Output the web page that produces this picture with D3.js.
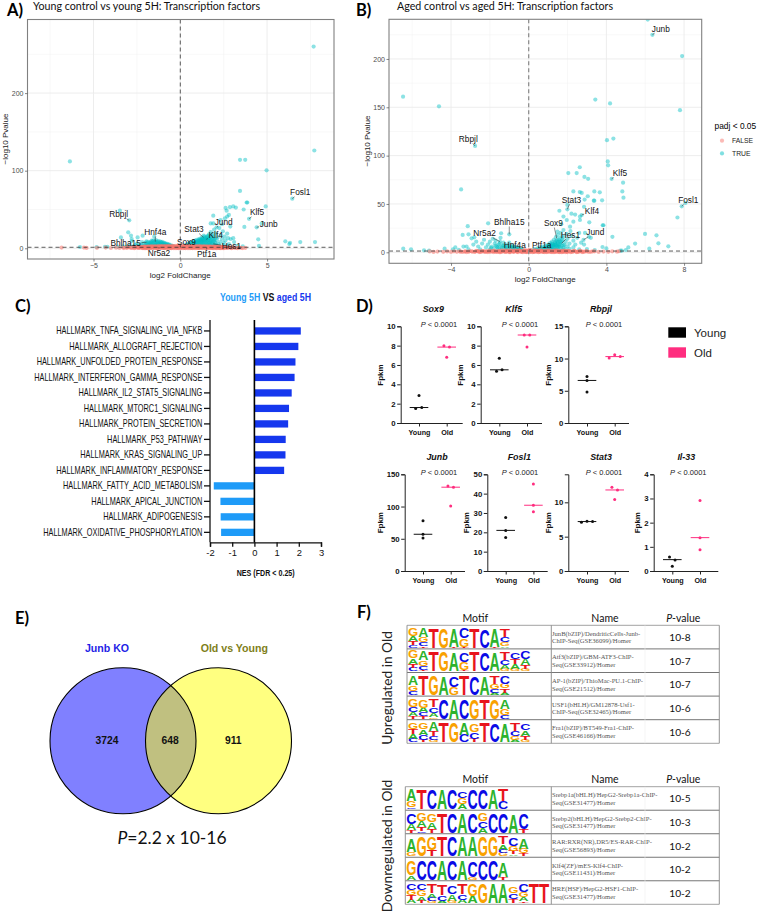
<!DOCTYPE html>
<html>
<head>
<meta charset="utf-8">
<script src="https://cdn.jsdelivr.net/npm/d3@7"></script>
<style>
  html, body { margin: 0; padding: 0; background: #fff; }
  svg { display: block; }
  text { font-family: "Liberation Sans", Arial, sans-serif; }
  .calibri { font-family: Lato, sans-serif; }
</style>
</head>
<body>
<svg id="fig" width="758" height="914"></svg>
<script>
// ---- Panel A values: [log2 fold change, -log10 p] ----
var aSignificant = [
  [7.68,260],[7.72,126],[-6.36,112],[3.44,114],[3.74,114],[4.97,100.5],[3.44,74],[6.45,64],[3.82,59],[3.86,59],
  [-3.48,48.5],[-2.94,36],[4.92,54],[3.65,50],[3.96,38],[3.05,54],[2.61,52],[2.86,53],[3.2,52.5],[2.67,48.5],
  [2.8,43],[1.9,42],[2.7,41],[2.57,38.6],[1.75,32],[1.9,32],[2.32,36.5],[2.4,31],[2.09,27],[2.88,28],
  [3.69,27.5],[4.4,27],[4.69,32],[4.49,11.6],[4.53,3],[6.05,9],[6.28,5.5],[6.32,7],[6.91,8],[7.76,8],
  [-3,20.6],[-2.84,16.3],[-3.42,14],[-2.8,12],[-2.46,14],[-2.17,16.3],[-5.78,1.7],[-4.34,2],[-4.2,2],[-4.82,1.7],
  [0.35,2.2],[0.4,3],[0.45,2],[0.5,3.5],[0.5,2.4],[0.55,4.5],[0.6,2.2],[0.6,3.3],[0.65,5.5],[0.7,2.5],
  [0.7,4],[0.75,6.4],[0.8,2.3],[0.8,3.4],[0.8,5],[0.85,7.5],[0.9,2.6],[0.9,4.2],[0.9,6],[0.95,8.3],
  [1,2.4],[1,3.5],[1,5.2],[1,7],[1.05,9.5],[1.1,2.8],[1.1,4.4],[1.1,6.2],[1.1,8],[1.15,10.6],
  [1.2,2.5],[1.2,3.8],[1.2,5.4],[1.2,7.3],[1.25,9.3],[1.25,12],[1.3,2.9],[1.3,4.6],[1.3,6.5],[1.3,8.4],
  [1.35,10.5],[1.35,16.5],[1.4,3.4],[1.4,5.5],[1.4,7.6],[1.4,13],[1.5,2.6],[1.5,4.3],[1.5,6.3],[1.5,9],
  [1.5,11],[1.55,15],[1.6,3.2],[1.6,5.4],[1.6,8],[1.65,18],[1.7,2.7],[1.7,4.6],[1.7,7],[1.7,10.5],
  [1.7,13.5],[1.75,21],[1.8,3.6],[1.8,6],[1.85,16],[1.9,2.8],[1.9,5],[1.9,9],[1.9,12],[1.95,24],
  [2,4],[2,7.5],[2.05,19],[2.1,3],[2.1,10.5],[2.15,14],[2.2,5.5],[2.25,26],[2.3,2.6],[2.3,8],
  [2.35,17],[2.4,12],[2.45,22],[2.5,4.2],[2.5,7],[2.55,15],[2.6,10],[2.7,3],[2.7,19],[2.75,13],
  [2.8,5.5],[2.9,12],[3.05,13],[3.1,8],[3.6,2.4],[3.3,3],
  [.3,4],[.4,5],[.5,6.2],[.55,7.2],[.65,8],[.7,7],[.75,9.2],[.85,9.8],[.9,8],[.95,10.8],
  [1,9],[1.05,11.5],[1.1,10],[1.15,12.6],[1.2,9],[1.2,11],[1.25,14],[1.3,10.5],[1.3,12.5],[1.4,9],
  [1.4,11],[1.4,15],[1.45,12.5],[1.5,14],[1.55,9.8],[1.55,12.5],[1.6,10.8],[1.6,16],[1.65,6.4],[1.65,13],
  [1.75,8.6],[1.75,12],[1.8,10],[1.8,14.5],[1.85,18.5],[1.85,7.5],[1.95,10.6],[1.95,14.5],[2,12],[2.05,6.4],
  [-0.35,2],[-0.4,2.8],[-0.5,2.2],[-0.5,3.4],[-0.6,2.5],[-0.6,4],[-0.7,2.2],[-0.7,3.2],[-0.7,4.6],[-0.8,2.6],
  [-0.8,3.8],[-0.8,5.2],[-0.9,2.3],[-0.9,3.4],[-0.9,4.8],[-0.9,6],[-1,2.7],[-1,4],[-1,5.4],[-1,6.8],
  [-1.1,2.2],[-1.1,3.3],[-1.1,4.6],[-1.1,6],[-1.1,7.6],[-1.2,2.8],[-1.2,4.2],[-1.2,5.6],[-1.2,7],[-1.3,2.3],
  [-1.3,3.5],[-1.3,5],[-1.3,6.4],[-1.3,8.5],[-1.4,3],[-1.4,4.4],[-1.4,6],[-1.4,10.5],[-1.5,2.5],[-1.5,3.8],
  [-1.5,5.4],[-1.5,7.6],[-1.5,15],[-1.6,3.2],[-1.6,4.8],[-1.6,6.8],[-1.6,9],[-1.7,2.6],[-1.7,4.2],[-1.7,5.8],
  [-1.7,8],[-1.8,3.4],[-1.8,5],[-1.8,7],[-1.9,2.4],[-1.9,4],[-1.9,6],[-2,3],[-2,4.8],[-2,7.5],
  [-2.1,2.5],[-2.1,5.5],[-2.2,3.5],[-2.2,8],[-2.3,2.4],[-2.3,5],[-2.4,3.3],[-2.5,2.2],[-2.5,6],[-2.6,4],
  [-2.7,2.5],[-2.8,9],[-2.9,3],[-3.1,2.2],[-3.3,2.6],[-3.6,2.2],
  [-.55,3],[-.65,5],[-.75,5.8],[-.85,6.4],[-.95,7.4],[-1.05,8.4],[-1.15,8.6],[-1.25,9.4],[-1.35,7.6],[-1.45,8.8],[-1.55,10],[-1.65,9.8],[-1.75,6.6],[-1.85,8.4],[-1.95,9]
]
var aNotSignificant = [
  [-6.84,.9],[-5.55,.9],[-5.4,.5],[-4.8,.6],[-4.3,.9],[-4,.4],[-3.7,.8],[-3.5,.5],[-3.3,1],[-3.1,.6],
  [-2.95,1],[-2.8,.4],[-2.7,1.1],[-2.6,.7],[-2.5,1.2],[-2.4,.4],[-2.3,1],[-2.2,.6],[-2.1,1.2],[-2,.3],
  [-2,1.5],[-1.9,.8],[-1.8,1.6],[-1.8,.3],[-1.7,1],[-1.6,.4],[-1.6,1.8],[-1.5,1],[-1.4,.3],[-1.4,1.7],
  [-1.3,.9],[-1.2,1.9],[-1.2,.3],[-1.1,1.1],[-1,.4],[-1,1.9],[-.9,1.1],[-.8,.3],[-.8,2],[-.7,1.1],
  [-.6,.3],[-.6,2],[-.5,1.1],[-.4,.3],[-.4,2.2],[-.3,1.2],[-.2,.3],[-.2,2.3],[-.1,1.2],[0,.2],
  [0,2.4],[.1,1.2],[.2,.3],[.2,2.3],[.3,1.2],[.4,.3],[.4,2.2],[.5,1.1],[.6,.3],[.6,2],
  [.7,1.1],[.8,.3],[.8,1.9],[.9,1.1],[1,.4],[1,1.9],[1.1,1],[1.2,.3],[1.2,1.8],[1.3,1],
  [1.4,.4],[1.4,1.8],[1.5,1],[1.6,.3],[1.6,1.7],[1.7,.9],[1.8,.4],[1.8,1.6],[1.9,1],[2,.3],
  [2,1.5],[2.1,.8],[2.2,.4],[2.2,1.4],[2.3,.9],[2.4,.3],[2.4,1.3],[2.5,.7],[2.6,1.1],[2.7,.4],
  [2.8,1],[2.9,.6],[3,1.1],[3.2,.5],[3.4,.9],[3.75,.6],
  [-2.35,1.5],[-2.25,2],[-2.15,1.8],[-2.05,2.4],[-1.95,2],[-1.85,2.6],[-1.75,2.1],[-1.65,2.8],[-1.55,2.2],[-1.45,2.9],
  [-1.35,2.3],[-1.25,3],[-1.15,2.4],[-1.05,3],[-.95,2.4],[-.85,3.1],[-.75,2.5],[-.65,3.1],[-.55,2.6],[-.45,3.2],
  [-.35,2.6],[-.25,3.3],[-.15,2.7],[-.05,3.4],[.05,2.7],[.15,3.4],[.25,2.7],[.35,3.2],[.45,2.6],[.55,3.1],
  [.65,2.5],[.75,3],[.85,2.4],[.95,2.9],[1.05,2.4],[1.15,2.8],[1.25,2.3],[1.35,2.7],[1.45,2.2],[1.55,2.6],
  [1.65,2.2],[1.75,2.5],[1.85,2],[1.95,2.4],[2.05,1.9],[2.15,2.2],[2.25,1.7],[2.35,2],[2.45,1.5],[2.55,1.7],
  [-2.35,.7],[-2.15,.2],[-1.95,1],[-1.75,.5],[-1.55,1.3],[-1.35,.6],[-1.15,1.4],[-.95,.5],[-.75,1.4],[-.55,.6],
  [-.35,1.5],[-.15,.7],[.05,1.5],[.25,.6],[.45,1.5],[.65,.7],[.85,1.4],[1.05,.5],[1.25,1.4],[1.45,.6],[1.65,1.3],[1.85,.6],[2.05,1.1],[2.25,.5],[2.45,.9],
  [-3.25,.3],[-3.05,1.1],[-2.85,.8],[-2.65,.2],[-2.55,1.5],[-2.45,.9],[-2.3,1.7],[-2.2,.9],[-2.05,.1],[-2.05,1.7],
  [-1.9,.2],[-1.9,1.4],[-1.7,.2],[-1.7,2],[-1.5,.2],[-1.5,1.7],[-1.3,.2],[-1.3,1.6],[-1.1,.3],[-1.1,2.2],
  [-.9,.2],[-.9,1.8],[-.7,.2],[-.7,2.1],[-.5,.2],[-.5,1.9],[-.3,.2],[-.3,2.2],[-.1,.2],[-.1,2.1],
  [.1,.1],[.1,2.1],[.3,.2],[.3,2.2],[.5,.2],[.5,1.9],[.7,.2],[.7,2.1],[.9,.2],[.9,1.8],
  [1.1,.2],[1.1,2.1],[1.3,.2],[1.3,1.7],[1.5,.2],[1.5,1.8],[1.7,.2],[1.7,1.8],[1.9,.2],[1.9,1.6],
  [2.1,.2],[2.1,1.6],[2.3,.2],[2.3,1.5],[2.5,.2],[2.5,1.2],[2.65,.7],[2.75,1.3],[2.95,.2],[3.1,.8],[3.3,.2],[3.5,.6],[3.6,.3]
]
var aLabelNames = ["Fosl1","Rbpjl","Klf5","Jund","Junb","Stat3","Hnf4a","Klf4","Bhlha15","Sox9","Hes1","Nr5a2","Ptf1a"]
var aLabelAt = [[6.91,72.2],[-3.55,43.8],[4.42,46.4],[2.5,34.4],[5.09,31.4],[.79,24.9],[-1.44,21],[2.04,17.2],[-3.15,6.4],[.35,8.6],[2.94,2.6],[-1.23,-6],[1.52,-7.3]]
var aLabelPoint = [[6.45,64],[-2.94,36],[3.96,38],[2.09,27],[4.4,27],[1.33,14],[-1.44,8.6],[1.5,11.6],[-1.95,7.7],[.5,3],[1.9,5.6],[-1.23,1.7],[1.52,1.3]]

// ---- Panel B values ----
var bSignificant = [
  [6.13,240.7],[6.37,225],[7.9,203],[7.79,147],[-6.47,161],[-4.62,151],[3.43,158],[4.19,154],[-2.76,110],[4.03,116],
  [4.36,117.6],[4.07,94],[4.09,90],[-3.48,65],[2.63,88],[2.04,82],[2.47,82],[2.87,78],[3.06,76],[4.27,76],
  [4.86,72],[4.82,63],[4.88,56.5],[2.3,63],[2.63,62.4],[2.73,61.4],[3.38,63],[3.66,62],[3.04,58],[2.88,54.5],
  [3.35,53.4],[3.38,53.4],[3.78,53.8],[1.99,49],[2.85,47],[7.88,47.6],[8.07,51],[7.66,36],[1.58,43],[1.99,44.5],
  [2.2,40],[2.39,39],[2.73,38.6],[1.79,37],[2.64,37],[1.96,33.4],[2.3,31.7],[2.64,33.4],[3.12,31],[3.81,28],
  [3.85,28],[1.68,29],[2.13,26.5],[1.79,23],[1.48,21.4],[5.99,19],[4.31,16],[6.58,17.6],[6.68,9.3],[7.19,6.2],
  [6.21,3.8],[5.48,9],[5.13,5],[5,2.4],[4.79,1.7],[4.72,1.7],[-6.46,3.8],[-6.06,3.1],[-5.39,2],[-5.13,1.7],[-4.33,3.8],
  [-2.09,30],[-3.14,27],[-3.4,18],[-3.1,18.6],[-2.94,14.5],[-2.8,15.5],[-1.42,19.7],[-1,18.6],[-1.48,11],[-3.78,5],
  [-3.36,5.9],[-3.2,6],[-2.85,8],[-2.7,11],[-2.6,6],[-2.5,3],[-2.4,9],[-2.3,13],[-2.2,5],[-2.1,8],
  [-2,3],[-2,11],[-1.9,6],[-1.85,14],[-1.8,4],[-1.75,9],[-1.7,12],[-1.65,6],[-1.6,3],[-1.55,8],
  [-1.5,5],[-1.45,15],[-1.4,3],[-1.35,7],[-1.3,10],[-1.25,5],[-1.2,3],[-1.15,8],[-1.1,6],[-1.05,3],
  [-1,10],[-.95,5],[-.9,3],[-.85,7],[-.8,4],[-.75,2.5],[-.7,6],[-.65,3.5],[-.6,2.3],[-.55,5],
  [-.5,3],[-.45,2.2],[-.4,3.8],[-.35,2.5],[-.3,2],[-3.9,3],[-3.6,2.5],[-3.1,3],
  [-1.95,4.5],[-1.7,7],[-1.6,5],[-1.5,9],[-1.4,5],[-1.3,7],[-1.2,5.4],[-1.1,4],[-1,6.5],[-.9,5],[-.8,6],[-.7,4],[-.6,3.6],[-.5,4.4],
  [.25,2.2],[.3,3.2],[.35,2],[.4,2.7],[.45,4],[.5,2.3],[.55,3.3],[.6,5],[.65,2.4],[.7,3.8],
  [.7,6],[.75,2.2],[.8,3.2],[.8,4.8],[.85,7],[.9,2.6],[.9,4],[.95,5.6],[1,2.3],[1,3.4],
  [1,8],[1.05,4.6],[1.05,6.4],[1.1,2.8],[1.1,9.4],[1.15,3.8],[1.15,5.4],[1.2,7.2],[1.2,2.4],[1.2,11],
  [1.25,4.4],[1.25,8.6],[1.3,3],[1.3,6],[1.3,13],[1.35,5],[1.35,10],[1.4,2.5],[1.4,7.4],[1.4,15.6],
  [1.45,3.8],[1.45,12],[1.5,5.6],[1.5,9],[1.5,18],[1.55,3],[1.55,7],[1.6,11],[1.6,14.5],[1.65,4.4],
  [1.65,20],[1.7,6.4],[1.7,9.3],[1.75,2.6],[1.75,13],[1.8,4.8],[1.8,16],[1.85,8],[1.9,3.3],[1.9,11],
  [1.95,19],[2,6],[2,14],[2.1,3.6],[2.1,9],[2.15,22],[2.2,17],[2.3,5],[2.3,12],[2.4,8],
  [2.5,15],[2.6,3],[2.6,20],[2.7,10],[2.82,12.8],[2.85,8],[3,3.4],[2.9,20],[3.1,16],[3.2,15],
  [3.4,2.4],[3.8,5.5],[4,4],
  [.9,5.2],[1,6.2],[1.1,7.4],[1.15,6.6],[1.2,9.2],[1.25,6.4],[1.3,7.6],[1.35,8],[1.4,9],[1.4,11.6],[1.45,6],[1.5,7.4],[1.5,11],[1.55,13],[1.6,6],[1.6,8.6],[1.65,10.6],[1.7,12],[1.7,16],[1.8,7]
]
var bNotSignificant = [
  [-5.1,.9],[-4.9,.4],[-4.7,.8],[-4.4,.5],[-4.2,.9],[-4,.4],[-3.85,1],[-3.7,.5],[-3.55,.9],[-3.4,.3],
  [-3.25,1.1],[-3.1,.5],[-2.95,1],[-2.8,.3],[-2.65,1.1],[-2.5,.6],[-2.35,1.2],[-2.2,.3],[-2.05,1.1],[-1.9,.6],
  [-1.75,1.2],[-1.6,.3],[-1.5,1.2],[-1.4,.6],[-1.3,1.3],[-1.2,.3],[-1.1,1.1],[-1,.6],[-.9,1.3],[-.8,.3],
  [-.7,1.1],[-.6,.5],[-.5,1.5],[-.4,.3],[-.3,1.2],[-.2,.6],[-.15,2],[-.05,.3],[0,1.2],[.05,2.4],
  [.1,.5],[.2,1.3],[.3,.3],[.35,2],[.45,1],[.55,.4],[.65,1.4],[.75,.5],[.85,1.2],[.95,.3],
  [1.05,1.3],[1.15,.6],[1.25,1.1],[1.35,.3],[1.45,1.2],[1.55,.5],[1.65,1.1],[1.75,.3],[1.85,1.2],[1.95,.6],
  [2.1,1],[2.25,.3],[2.4,1.1],[2.55,.5],[2.7,1],[2.85,.3],[3,.9],[3.2,.5],[3.4,1],[3.6,.4],
  [3.85,.8],[4.1,.5],[4.3,1],[4.55,.6],[4.65,1.1],
  [-3.3,.7],[-3.05,1.1],[-2.75,.7],[-2.6,1.2],[-2.45,.4],[-2.3,.8],[-2.15,1.2],[-2,.5],[-1.85,1.2],[-1.7,.5],
  [-1.55,1.4],[-1.45,.2],[-1.35,1],[-1.25,1.7],[-1.15,.5],[-1.05,1.5],[-.95,.2],[-.85,1.7],[-.75,.7],[-.65,1.7],
  [-.55,.2],[-.45,1.8],[-.35,.7],[-.25,1.9],[-.15,.4],[-.1,1.4],[0,2],[.05,.7],[.15,1.9],[.25,.5],
  [.3,1.5],[.4,.6],[.5,1.8],[.6,.9],[.7,1.8],[.8,.2],[.9,1.7],[1,.7],[1.1,1.8],[1.2,.2],
  [1.3,1.7],[1.4,.7],[1.5,1.7],[1.6,.2],[1.7,1.6],[1.8,.7],[1.9,1.6],[2,.2],[2.05,1.5],[2.2,.8],[2.35,1.5],[2.5,.3],[2.65,1.4],[2.8,.7],
  [-3.5,.6],[-3.2,.2],[-2.9,.7],[-2.7,1.4],[-2.55,.2],[-2.4,1.6],[-2.25,.8],[-2.1,.2],[-2,1.7],[-1.8,.2],
  [-1.8,1.7],[-1.65,.9],[-1.5,.1],[-1.4,1.9],[-1.25,.7],[-1.15,2],[-1,.1],[-.95,1.9],[-.8,1],[-.7,2],
  [-.6,.9],[-.5,2.1],[-.4,1.1],[-.3,.1],[-.2,1.8],[-.1,.2],[.1,1],[.2,.1],[.3,2.1],[.4,1.2],
  [.5,.1],[.6,2],[.7,.4],[.8,1.2],[.9,.2],[1,1.9],[1.1,.3],[1.2,1.1],[1.3,.1],[1.4,2],
  [1.5,.3],[1.6,1.2],[1.7,.1],[1.8,1.8],[1.9,.2],[2,1.3],[2.15,.2],[2.3,1.2],[2.45,.2],[2.6,1],[2.75,.2],[2.95,1.3],[3.1,.3],[3.3,.9]
]
var bLabelNames = ["Junb","Rbpjl","Klf5","Fosl1","Stat3","Klf4","Sox9","Bhlha15","Jund","Hes1","Nr5a2","Hnf4a","Ptf1a"]
var bLabelAt = [[6.8,231.4],[-3.11,117.2],[4.7,82],[8.22,54.1],[2.2,54.5],[3.26,42.4],[1.27,30.3],[-1,31.4],[3.43,20.7],[2.15,18.3],[-2.27,19.7],[-.72,7.6],[.67,7.6]]
var bLabelPoint = [[6.37,225],[-2.76,110],[4.27,76],[7.88,47.6],[1.99,44.5],[2.73,38.6],[1.44,14.5],[-1,18.6],[2.82,12.8],[1.7,9.3],[-1.48,11],[-1.14,4],[0,2.4]]

// ---- Panel C values ----
var hallmarkNames = ["HALLMARK_TNFA_SIGNALING_VIA_NFKB","HALLMARK_ALLOGRAFT_REJECTION","HALLMARK_UNFOLDED_PROTEIN_RESPONSE",
  "HALLMARK_INTERFERON_GAMMA_RESPONSE","HALLMARK_IL2_STAT5_SIGNALING","HALLMARK_MTORC1_SIGNALING","HALLMARK_PROTEIN_SECRETION",
  "HALLMARK_P53_PATHWAY","HALLMARK_KRAS_SIGNALING_UP","HALLMARK_INFLAMMATORY_RESPONSE","HALLMARK_FATTY_ACID_METABOLISM",
  "HALLMARK_APICAL_JUNCTION","HALLMARK_ADIPOGENESIS","HALLMARK_OXIDATIVE_PHOSPHORYLATION"]
var nesValues = [2.09,1.98,1.85,1.81,1.68,1.56,1.52,1.41,1.40,1.34,-1.83,-1.53,-1.52,-1.50]

// ---- Panel D values: [offset from group centre, fpkm] ----
var geneNames = ["Sox9","Klf5","Rbpjl","Junb","Fosl1","Stat3","Il-33"]
var youngPoints = [
  [[0,2.85],[-.12,1.5],[.1,1.6]],
  [[0,6.7],[-.1,5.35],[.1,5.5]],
  [[0,7.2],[0,6.6],[0,4.8]],
  [[0,78],[0,57],[0,51]],
  [[0,27.7],[0,21],[0,17.3]],
  [[-.2,7.1],[0,7.25],[.2,7.2]],
  [[-.1,.58],[.1,.46],[0,.2]]
]
var oldPoints = [
  [[-.1,8],[.1,7.85],[0,6.8]],
  [[-.1,9.1],[.1,9.1],[0,7.85]],
  [[-.2,10.1],[0,10.6],[.2,10.3]],
  [[-.1,132],[.1,130],[0,101]],
  [[0,45],[0,34],[0,30.7]],
  [[-.1,12.2],[.1,11.8],[0,10.4]],
  [[0,2.92],[0,1.38],[0,.88]]
]
var youngMedian = [1.6,5.5,6.6,57,21,7.2,.47]
var oldMedian = [7.85,9.1,10.3,130,34,11.8,1.38]
var geneTicks = [[0,2,4,6,8,10],[0,2,4,6,8,10],[0,5,10,15],[0,50,100,150],[0,10,20,30,40,50],[0,5,10],[0,1,2,3,4]]
var geneMax = [10,10,15,150,50,14.08,4]

// ---- Panel E values ----
var vennSets = ["Junb KO","Old vs Young"]
var vennCounts = [3724,648,911]

// ---- Panel F values ----
var upNames = [["JunB(bZIP)/DendriticCells-Junb-","ChIP-Seq(GSE36099)/Homer"],["Atf3(bZIP)/GBM-ATF3-ChIP-","Seq(GSE33912)/Homer"],
  ["AP-1(bZIP)/ThioMac-PU.1-ChIP-","Seq(GSE21512)/Homer"],["USF1(bHLH)/GM12878-Usf1-","ChIP-Seq(GSE32465)/Homer"],["Fra1(bZIP)/BT549-Fra1-ChIP-","Seq(GSE46166)/Homer"]]
var upPvalues = ["10-8","10-7","10-7","10-6","10-6"]
var upLogos = [
  ["G38 A26 T18 C12","A45 G25 C18 T8","T95","G95","A90 T5","C50 G40 T5","T95","C90","A90 T5","T40 C25 G18 A8"],
  ["G35 A25 T20 C15","A45 G25 C18 T8","T95","G95","A90","C45 G40 T5","T95","C90","A85","T35 C25 A18 G10","C32 T25 A22 G12","C35 A28 T18 G10"],
  ["A45 G25 C20","T95","G95","A90","C50 G35","T95","C90","A85","T35 G22 C18 A10","C35 G22 T20 A10"],
  ["G35 C25 A18 T12","G38 A22 C18 T10","T40 C25 A18 G8","C95","A95","C95","G95","T95","G95","A45 G28 C15"],
  ["G28 T25 A22 C15","G30 A25 C22 T12","A40 T22 C18 G10","T95","G95","A55 C35","G40 C30 T15","T95","C90","A85","T35 C22 G18 A10","C30 A25 T20 G10"]
]
var downNames = [["Srebp1a(bHLH)/HepG2-Srebp1a-ChIP-","Seq(GSE31477)/Homer"],["Srebp2(bHLH)/HepG2-Srebp2-ChIP-","Seq(GSE31477)/Homer"],
  ["RAR:RXR(NR),DR5/ES-RAR-ChIP-","Seq(GSE56893)/Homer"],["Klf4(ZF)/mES-Klf4-ChIP-","Seq(GSE11431)/Homer"],["HRE(HSF)/HepG2-HSF1-ChIP-","Seq(GSE31477)/Homer"]]
var downPvalues = ["10-5","10-3","10-2","10-2","10-2"]
var downLogos = [
  ["A55 G28 C8","T95","C95","A95","C95","C32 G28 A25","C95","C95","A95","T55 C35"],
  ["C50 A28 T10","G38 A30 T18 C6","G38 A30 T18","T95","C95","A95","C95","G35 C30 A22","C95","C95","A90","C75 T15"],
  ["A65 G20","G95","G60 T30","T95","C95","A95","A95","G95","G95","T35 A25 C15 G15","C40 G25 T15 A8","A50 G22 T12"],
  ["G70 A20","C95","C95","A95","C95","A95","C75 G10","C95","C95","A70 T12"],
  ["C30 G25 T22 A15","C30 G28 A20 T12","T45 A20 C15 G10","T50 C25 A12","C35 A28 G12","T50 C25 A15","G55 A35","G95","A95","A95","G30 C25 T20","C35 G25 A20 T8","T95","T95"]
]

var svg = d3.select("#fig")
var teal = "#00bfc4", salmon = "#f8766d"

function panelLetter(txt, x, y) {
  svg.append("text").attr("class", "calibri").attr("x", x).attr("y", y)
    .style("font-size", "16.5px").style("font-weight", "bold").text(txt)
}

// Volcano plot, used for both A and B
function draw_volcano(o) {
  var x = d3.scaleLinear().domain(o.xDomain).range([o.left, o.right])
  var y = d3.scaleLinear().domain(o.yDomain).range([o.bottom, o.top])
  var g = svg.append("g")
  var clipId = "clip" + o.id

  g.append("clipPath").attr("id", clipId).append("rect")
    .attr("x", o.left).attr("y", o.top).attr("width", o.right - o.left).attr("height", o.bottom - o.top)

  // grid, minor then major
  g.selectAll(".xminor").data(o.xMinor).enter().append("line")
    .attr("x1", x).attr("x2", x).attr("y1", o.top).attr("y2", o.bottom).attr("stroke", "#f0f0f0").attr("stroke-width", .5)
  g.selectAll(".yminor").data(o.yMinor).enter().append("line")
    .attr("y1", y).attr("y2", y).attr("x1", o.left).attr("x2", o.right).attr("stroke", "#f0f0f0").attr("stroke-width", .5)
  g.selectAll(".xmajor").data(o.xTicks).enter().append("line")
    .attr("x1", x).attr("x2", x).attr("y1", o.top).attr("y2", o.bottom).attr("stroke", "#ebebeb").attr("stroke-width", .9)
  g.selectAll(".ymajor").data(o.yTicks).enter().append("line")
    .attr("y1", y).attr("y2", y).attr("x1", o.left).attr("x2", o.right).attr("stroke", "#ebebeb").attr("stroke-width", .9)

  var dots = g.append("g").attr("clip-path", "url(#" + clipId + ")")
  dots.selectAll(".sig").data(o.significant).enter().append("circle")
    .attr("cx", function (d) { return x(d[0]) }).attr("cy", function (d) { return y(d[1]) })
    .attr("r", 2.1).attr("fill", teal).attr("fill-opacity", .45)
  dots.selectAll(".ns").data(o.notSignificant).enter().append("circle")
    .attr("cx", function (d) { return x(d[0]) }).attr("cy", function (d) { return y(d[1]) })
    .attr("r", 2.1).attr("fill", salmon).attr("fill-opacity", .55)

  // thresholds
  g.append("line").attr("x1", x(0)).attr("x2", x(0)).attr("y1", o.top).attr("y2", o.bottom)
    .attr("stroke", o.vColor).attr("stroke-width", o.vWidth).attr("stroke-dasharray", "4,3")
  g.append("line").attr("x1", o.left).attr("x2", o.right).attr("y1", y(1.3)).attr("y2", y(1.3))
    .attr("stroke", "#333").attr("stroke-width", .8).attr("stroke-dasharray", "4,3")

  g.append("rect").attr("x", o.left).attr("y", o.top).attr("width", o.right - o.left).attr("height", o.bottom - o.top)
    .attr("fill", "none").attr("stroke", "#808080").attr("stroke-width", 1.1)

  var xAxis = g.append("g").attr("transform", "translate(0," + o.bottom + ")")
    .call(d3.axisBottom(x).tickValues(o.xTicks).tickSize(2.5).tickPadding(1.5).tickFormat(function (d) { return d < 0 ? "\u2212" + (-d) : d }))
  var yAxis = g.append("g").attr("transform", "translate(" + o.left + ",0)")
    .call(d3.axisLeft(y).tickValues(o.yTicks).tickSize(2.5).tickPadding(1.5))
  xAxis.select(".domain").remove()
  yAxis.select(".domain").remove()
  g.selectAll(".tick line").attr("stroke", "#555").attr("stroke-width", .7)
  g.selectAll(".tick text").attr("fill", "#4d4d4d").style("font-size", "7px").style("font-family", "Liberation Sans")

  g.append("text").attr("x", x(0) + o.xTitleShift).attr("y", o.xTitleY).attr("text-anchor", "middle").style("font-size", "8px").attr("fill", "#222").text("log2 FoldChange")
  g.append("text").attr("transform", "translate(" + o.yTitleX + "," + o.yTitleMid + ") rotate(-90)")
    .attr("text-anchor", "middle").style("font-size", "8px").attr("fill", "#222").text("\u2212log10 Pvalue")

  // gene labels with their little leader segments
  o.labelNames.forEach(function (name, i) {
    var tx = x(o.labelAt[i][0]), ty = y(o.labelAt[i][1])
    var px = x(o.labelPoint[i][0]), py = y(o.labelPoint[i][1])
    var label = g.append("text").attr("x", tx).attr("y", ty).attr("dy", "0.35em").attr("text-anchor", "middle")
      .style("font-size", "8.3px").attr("fill", "#111").text(name)
    var box = label.node().getBBox()
    var dx = px - tx, dy = py - ty
    var t = Math.min(dx ? (box.width / 2 + .5) / Math.abs(dx) : 9, dy ? (box.height / 2 - .5) / Math.abs(dy) : 9)
    if (t < 1) {
      g.append("line").attr("x1", tx + dx * t).attr("y1", ty + dy * t).attr("x2", px).attr("y2", py)
        .attr("stroke", "#222").attr("stroke-width", .5)
    }
  })

  svg.append("text").attr("class", "calibri").attr("x", o.titleX).attr("y", 10).style("font-size", "10.7px").attr("fill", "#111").text(o.title)
}

panelLetter("A)", 7, 16)
draw_volcano({
  id: "a", title: "Young control vs young 5H: Transcription factors", titleX: 33,
  left: 27.5, right: 334, top: 19.5, bottom: 259,
  xDomain: [(27.5 - 180.3) / 17.36, (334 - 180.3) / 17.36], yDomain: [(248.3 - 259) / .776, (248.3 - 19.5) / .776],
  xTicks: [-5, 0, 5], xMinor: [-7.5, -2.5, 2.5, 7.5], yTicks: [0, 100, 200], yMinor: [50, 150, 250],
  significant: aSignificant, notSignificant: aNotSignificant,
  labelNames: aLabelNames, labelAt: aLabelAt, labelPoint: aLabelPoint,
  vColor: "#333", vWidth: .8, xTitleShift: 0, xTitleY: 277.5, yTitleX: 7.5, yTitleMid: 139
})

panelLetter("B)", 356, 16)
draw_volcano({
  id: "b", title: "Aged control vs aged 5H: Transcription factors", titleX: 397,
  left: 389, right: 701.7, top: 19.3, bottom: 263.3,
  xDomain: [(389 - 528.7) / 19.42, (701.7 - 528.7) / 19.42], yDomain: [(252.3 - 263.3) / .9667, (252.3 - 19.3) / .9667],
  xTicks: [-4, 0, 4, 8], xMinor: [-6, -2, 2, 6], yTicks: [0, 50, 100, 150, 200], yMinor: [25, 75, 125, 175, 225],
  significant: bSignificant, notSignificant: bNotSignificant,
  labelNames: bLabelNames, labelAt: bLabelAt, labelPoint: bLabelPoint,
  vColor: "#888", vWidth: 1.2, xTitleShift: 16.5, xTitleY: 281.5, yTitleX: 369.5, yTitleMid: 141
})

// padj legend
var padj = svg.append("g")
padj.append("text").attr("x", 714.5).attr("y", 128.5).style("font-size", "8.4px").text("padj < 0.05")
padj.selectAll("circle").data([salmon, teal]).enter().append("circle")
  .attr("cx", 722).attr("cy", function (d, i) { return 140.7 + i * 12.7 }).attr("r", 2.1).attr("fill", function (d) { return d }).attr("fill-opacity", .5)
padj.selectAll(".lbl").data(["FALSE", "TRUE"]).enter().append("text")
  .attr("x", 732).attr("y", function (d, i) { return 143.2 + i * 12.7 }).style("font-size", "6.8px").attr("fill", "#222").text(function (d) { return d })

// no narrow font installed, so the squeezed labels of panel C get a horizontal scale
function squeeze(sel, x, k) {
  sel.attr("x", 0).attr("transform", "translate(" + x + ",0) scale(" + k + ",1)")
}

// Panel C
panelLetter("C)", 15, 312)
var nesX = d3.scaleLinear().domain([-2, 3]).range([210, 321])
var nesY = d3.scaleBand().domain(hallmarkNames).range([323.2, 540.1]).paddingInner(.53).paddingOuter(.265)
var chartC = svg.append("g")
chartC.selectAll(".bar").data(nesValues).enter().append("rect")
  .attr("x", function (d) { return nesX(Math.min(0, d)) })
  .attr("y", function (d, i) { return nesY(hallmarkNames[i]) })
  .attr("width", function (d) { return Math.abs(nesX(d) - nesX(0)) })
  .attr("height", nesY.bandwidth())
  .attr("fill", function (d) { return d > 0 ? "#1537ee" : "#1e9bf8" })

var cBottom = chartC.append("g").attr("transform", "translate(0,542.3)").call(d3.axisBottom(nesX).tickValues([-2, -1, 0, 1, 2, 3]).tickSize(4.5).tickPadding(3).tickFormat(function (d) { return d }))
var cLeft = chartC.append("g").attr("transform", "translate(210,0)").call(d3.axisLeft(nesY).tickSize(6).tickPadding(1.5))
chartC.selectAll(".domain, .tick line").attr("stroke", "#111").attr("stroke-width", 1.3)
cLeft.select(".domain").attr("d", "M0,320V542.3")
cBottom.selectAll("text").attr("fill", "#111").style("font-size", "9.4px").style("font-family", "Liberation Sans")
cLeft.selectAll("text").attr("fill", "#111").style("font-size", "10.4px").style("font-family", "Liberation Sans")

// work the squeeze out from the longest label, which is 159px wide in the figure
var longest = cLeft.selectAll("text").filter(function (d) { return d == "HALLMARK_OXIDATIVE_PHOSPHORYLATION" }).node().getComputedTextLength()
squeeze(cLeft.selectAll("text"), -7.7, 159 / longest)

chartC.append("line").attr("x1", nesX(0)).attr("x2", nesX(0)).attr("y1", 320).attr("y2", 542.3).attr("stroke", "#000").attr("stroke-width", 1.6)
var nesTitle = chartC.append("text").attr("y", 576.5).attr("text-anchor", "middle")
  .style("font-size", "8.8px").style("font-weight", "bold").attr("fill", "#111").text("NES (FDR  < 0.25)")
squeeze(nesTitle, 265.7, 58 / nesTitle.node().getComputedTextLength())
var cHead = svg.append("text").attr("y", 301).attr("text-anchor", "middle")
  .style("font-size", "11.5px").style("font-weight", "bold")
cHead.append("tspan").attr("fill", "#1e9bf8").text("Young 5H ")
cHead.append("tspan").attr("fill", "#111").text("VS ")
cHead.append("tspan").attr("fill", "#1537ee").text("aged 5H")
squeeze(cHead, 265.5, 91 / cHead.node().getComputedTextLength())

// Panel D
panelLetter("D)", 356, 312)
var black = "#111", pink = "#ff2d7f"
var dLayout = [
  { axis: 400.7, end: 462.7, young: 419, top: 326.3, zero: 423, title: 433.3, p: 439, fpkm: 380 },
  { axis: 480.7, end: 542, young: 499.3, top: 326.3, zero: 423, title: 513.7, p: 520, fpkm: 460 },
  { axis: 568.3, end: 629, young: 587, top: 326.3, zero: 423, title: 601, p: 604, fpkm: 548 },
  { axis: 404.7, end: 465, young: 423, top: 474.3, zero: 571, title: 437, p: 439, fpkm: 380 },
  { axis: 487.3, end: 547.7, young: 505.7, top: 474.3, zero: 571, title: 519.3, p: 520, fpkm: 466 },
  { axis: 568.3, end: 629, young: 587, top: 474.3, zero: 571, title: 601, p: 604, fpkm: 548 },
  { axis: 653.7, end: 718.3, young: 672.3, top: 474.3, zero: 571, title: 686.3, p: 688.3, fpkm: 637 }
]

function draw_dotplot(i) {
  var l = dLayout[i]
  var x = d3.scaleLinear().domain([0, 1]).range([l.young, l.young + 27.7])
  var y = d3.scaleLinear().domain([0, geneMax[i]]).range([l.zero, l.top])
  var g = svg.append("g")

  var yAx = g.append("g").attr("transform", "translate(" + l.axis + ",0)")
    .call(d3.axisLeft(y).tickValues(geneTicks[i]).tickSize(3.5).tickPadding(1.5).tickFormat(function (d) { return d }))
  var xAx = g.append("g").attr("transform", "translate(0," + l.zero + ")")
    .call(d3.axisBottom(d3.scaleOrdinal().domain(["Young", "Old"]).range([x(0), x(1)])).tickSize(3.5).tickPadding(3))
  xAx.select(".domain").attr("d", "M" + l.axis + ",0.5H" + l.end)
  g.selectAll(".domain, .tick line").attr("stroke", "#222").attr("stroke-width", 1)
  g.selectAll(".tick text").attr("fill", "#111").style("font-weight", "bold").style("font-family", "Liberation Sans")
  yAx.selectAll("text").style("font-size", "7.8px")
  xAx.selectAll("text").style("font-size", "7.2px")

  var groups = [[youngPoints[i], youngMedian[i], 0, black], [oldPoints[i], oldMedian[i], 1, pink]]
  groups.forEach(function (gr) {
    g.selectAll(null).data(gr[0]).enter().append("circle")
      .attr("cx", function (d) { return x(gr[2] + d[0]) }).attr("cy", function (d) { return y(d[1]) })
      .attr("r", 1.5).attr("fill", gr[3])
    g.append("line").attr("x1", x(gr[2]) - 9.3).attr("x2", x(gr[2]) + 9.3).attr("y1", y(gr[1])).attr("y2", y(gr[1]))
      .attr("stroke", gr[3]).attr("stroke-width", 1)
  })

  var rowTop = l.zero == 423 ? 311.5 : 460
  g.append("text").attr("x", l.title).attr("y", rowTop).attr("text-anchor", "middle")
    .style("font-size", "8.9px").style("font-weight", "bold").style("font-style", "italic").attr("fill", "#111").text(geneNames[i])
  var pt = g.append("text").attr("x", l.p).attr("y", l.zero == 423 ? 326.5 : 474.5).attr("text-anchor", "middle")
    .style("font-size", "7.5px").attr("fill", "#222")
  pt.append("tspan").style("font-style", "italic").text("P")
  pt.append("tspan").text(" < 0.0001")
  g.append("text").attr("transform", "translate(" + (l.fpkm + 2.8) + "," + (l.zero == 423 ? 375 : 522.7) + ") rotate(-90)")
    .attr("text-anchor", "middle").style("font-size", "8px").style("font-weight", "bold").attr("fill", "#111").text("Fpkm")
}
geneNames.forEach(function (d, i) { draw_dotplot(i) })

var dLegend = svg.append("g")
dLegend.selectAll("rect").data([black, pink]).enter().append("rect")
  .attr("x", 668.3).attr("y", function (d, i) { return 327.3 + i * 20 }).attr("width", 17.7).attr("height", 10.4).attr("fill", function (d) { return d === black ? "#000" : d })
dLegend.selectAll("text").data(["Young", "Old"]).enter().append("text")
  .attr("x", 694).attr("y", function (d, i) { return 337 + i * 20 }).style("font-size", "11.5px").attr("fill", "#222").text(function (d) { return d })

// Panel E
panelLetter("E)", 15, 624)
var vennCx = d3.scaleOrdinal().domain(vennSets).range([123, 218.5])
var vennFill = d3.scaleOrdinal().domain(vennSets).range(["#8080ff", "#ffff80"])
var venn = svg.append("g")
venn.append("clipPath").attr("id", "vennClip").append("circle").attr("cx", vennCx(vennSets[0])).attr("cy", 740.7).attr("r", 73)
venn.selectAll(".set").data(vennSets).enter().append("circle")
  .attr("cx", function (d) { return vennCx(d) }).attr("cy", 740.7).attr("r", 73).attr("fill", function (d) { return vennFill(d) })
venn.append("circle").attr("clip-path", "url(#vennClip)").attr("cx", vennCx(vennSets[1])).attr("cy", 740.7).attr("r", 73).attr("fill", "#c0c080")
venn.selectAll(".ring").data(vennSets).enter().append("circle")
  .attr("cx", function (d) { return vennCx(d) }).attr("cy", 740.7).attr("r", 73).attr("fill", "none").attr("stroke", "#000").attr("stroke-width", 1.1)
venn.selectAll(".count").data(vennCounts).enter().append("text")
  .attr("x", d3.scalePoint().domain(vennCounts).range([107, 233.3])).attr("y", 740.7).attr("dy", ".35em").attr("text-anchor", "middle")
  .style("font-size", "10.3px").style("font-weight", "bold").attr("fill", "#111").text(function (d) { return d })
venn.selectAll(".setname").data(vennSets).enter().append("text")
  .attr("x", function (d, i) { return i ? 234.3 : 107 }).attr("y", 651.8).attr("text-anchor", "middle")
  .style("font-size", "10.6px").style("font-weight", "bold").attr("fill", function (d, i) { return i ? "#7f7f1a" : "#1f1fe6" }).text(function (d) { return d })
var eP = svg.append("text").attr("class", "calibri").attr("x", 172).attr("y", 844).attr("text-anchor", "middle").style("font-size", "17.5px").attr("fill", "#111")
eP.append("tspan").style("font-style", "italic").text("P")
eP.append("tspan").text("=2.2 x 10-16")

// Panel F
panelLetter("F)", 357, 618)
var logoColor = { A: "#2db32d", C: "#0a0ae6", G: "#f9a100", T: "#e8141c" }
var glyphWidth = { A: 7.22, C: 7.22, G: 7.78, T: 6.11 } // advances at 10px Liberation Sans Bold
var capHeight = 7.29

function draw_logo(g, col, x0, rowTop, rowHeight) {
  var colW = 10.2
  col.forEach(function (stack, c) {
    var yBase = rowTop + rowHeight - 1.2
    // the string lists letters from the top down, so stack from the last one up
    stack.split(" ").reverse().forEach(function (s) {
      var letter = s[0], h = +s.slice(1) / 100 * (rowHeight - 2)
      g.append("text").attr("transform", "translate(" + (x0 + c * colW) + "," + yBase + ") scale(" + (colW / glyphWidth[letter]) + "," + (h / capHeight) + ")")
        .style("font-size", "10px").style("font-weight", "bold").attr("fill", logoColor[letter]).text(letter)
      yBase -= h
    })
  })
}

function draw_table(t) {
  var g = svg.append("g")
  var row = d3.scalePoint().domain(d3.range(6)).range([t.top, t.bottom])
  var rowH = row(1) - row(0)

  g.append("text").attr("class", "calibri").attr("transform", "translate(" + 391.5 + "," + t.sideMid + ") rotate(-90)")
    .attr("text-anchor", "middle").style("font-size", "13.7px").attr("fill", "#222").text(t.side)

  var heads = ["Motif", "Name"]
  var headX = d3.scaleOrdinal().domain(heads).range([475.3, 605])
  g.selectAll(".head").data(heads).enter().append("text").attr("class", "calibri")
    .attr("x", function (d) { return headX(d) }).attr("y", t.top - 3.5).attr("text-anchor", "middle").style("font-size", "10.5px").attr("fill", "#111").text(function (d) { return d })
  var ph = g.append("text").attr("class", "calibri").attr("x", 683.3).attr("y", t.top - 3.5).attr("text-anchor", "middle").style("font-size", "10.5px").attr("fill", "#111")
  ph.append("tspan").style("font-style", "italic").text("P")
  ph.append("tspan").text("-value")

  t.logos.forEach(function (logo, i) {
    draw_logo(g, logo, t.left + 1, row(i), rowH)
    g.append("text").attr("x", 552).attr("y", row(i) + 10.5).style("font-family", "Liberation Serif").style("font-size", "6.6px").attr("fill", "#555").text(t.names[i][0])
    g.append("text").attr("x", 552).attr("y", row(i) + 18).style("font-family", "Liberation Serif").style("font-size", "6.6px").attr("fill", "#555").text(t.names[i][1])
    g.append("text").attr("class", "calibri").attr("x", 680).attr("y", row(i) + rowH / 2 + 4).attr("text-anchor", "middle").style("font-size", "10.2px").attr("fill", "#111").text(t.pvalues[i])
  })

  g.selectAll(".rowline").data(d3.range(6)).enter().append("line")
    .attr("x1", t.left).attr("x2", 719.3).attr("y1", function (d) { return row(d) }).attr("y2", function (d) { return row(d) })
    .attr("stroke", function (d) { return d == 0 || d == 5 ? "#999" : "#666" }).attr("stroke-width", .9)
  g.selectAll(".colline").data([t.left, 551.3, 719.3]).enter().append("line")
    .attr("x1", function (d) { return d }).attr("x2", function (d) { return d }).attr("y1", t.top).attr("y2", t.bottom)
    .attr("stroke", "#888").attr("stroke-width", .9)
  g.append("line").attr("x1", 645).attr("x2", 645).attr("y1", t.top).attr("y2", t.bottom).attr("stroke", "#eee").attr("stroke-width", .6)
}

draw_table({ top: 625.3, bottom: 743.3, left: 407, side: "Upregulated in Old", sideMid: 688, logos: upLogos, names: upNames, pvalues: upPvalues })
draw_table({ top: 786.7, bottom: 904.3, left: 405.3, side: "Downregulated in Old", sideMid: 846, logos: downLogos, names: downNames, pvalues: downPvalues })
</script>
</body>
</html>
